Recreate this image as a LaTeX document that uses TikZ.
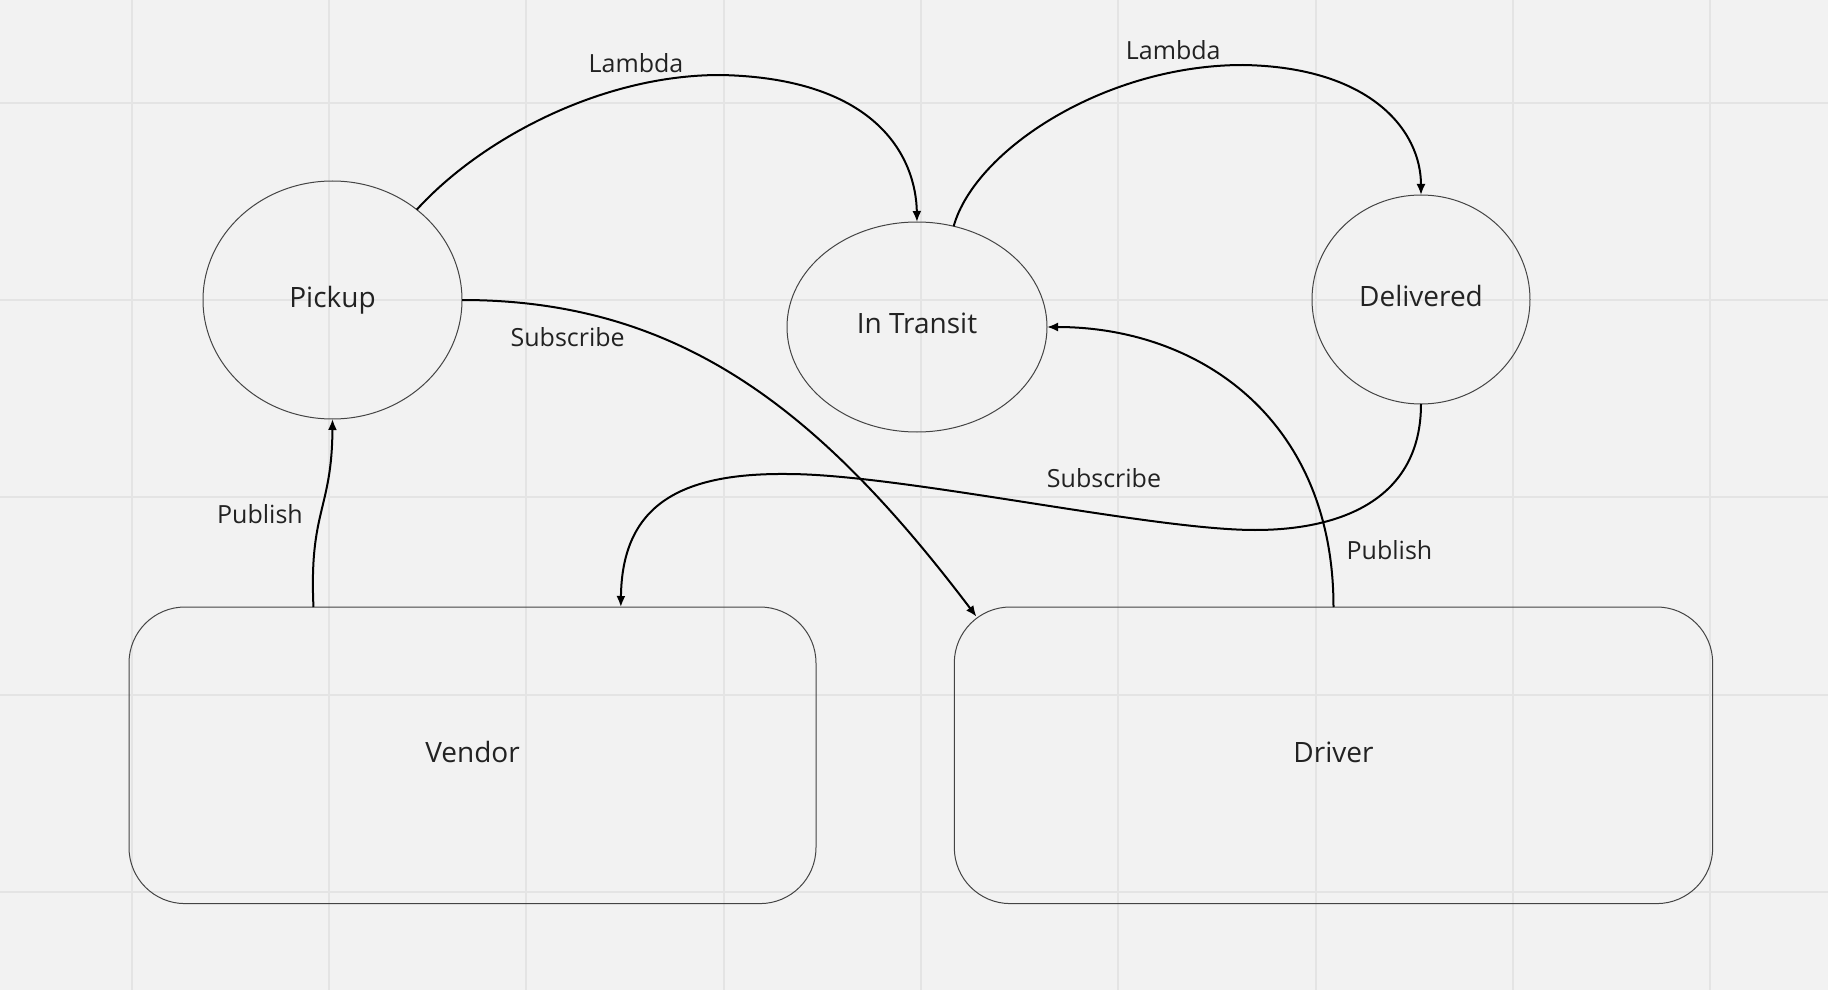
\documentclass[tikz,border=0pt]{standalone}
\usepackage{fontspec}
\setmainfont{Open Sans}
\usepackage{tikz}
\usetikzlibrary{arrows.meta,shapes.geometric}

\definecolor{bgcol}{HTML}{F2F2F2}
\definecolor{gridcol}{HTML}{E4E4E4}
\definecolor{inkcol}{HTML}{222222}
\definecolor{bordcol}{HTML}{444444}

\begin{document}
\begin{tikzpicture}[x=0.5pt,y=-0.5pt,
	state/.style={ellipse, draw=bordcol, line width=0.5pt, inner sep=0pt, outer sep=0pt, text depth=3.4pt, text=inkcol, font=\fontsize{14}{16}\selectfont},
	actor/.style={rectangle, rounded corners=28pt, draw=bordcol, line width=0.5pt, inner sep=0pt, outer sep=0pt, text depth=3.4pt, text=inkcol, font=\fontsize{14}{16}\selectfont},
	flow/.style={line width=1pt, black, -{Latex[length=5.5pt,width=4.5pt]}},
	lbl/.style={text=inkcol, font=\fontsize{12.5}{14}\selectfont, inner sep=0pt},
	gridline/.style={gridcol, line width=1pt}]
		\useasboundingbox (0,0) rectangle (1828,990);
		\fill[bgcol] (0,0) rectangle (1828,990);
		
		% board grid
		\draw[gridline] (131.7,0) -- (131.7,990);
		\draw[gridline] (329,0) -- (329,990);
		\draw[gridline] (526.3,0) -- (526.3,990);
		\draw[gridline] (723.6,0) -- (723.6,990);
		\draw[gridline] (920.9,0) -- (920.9,990);
		\draw[gridline] (1118.2,0) -- (1118.2,990);
		\draw[gridline] (1315.5,0) -- (1315.5,990);
		\draw[gridline] (1512.8,0) -- (1512.8,990);
		\draw[gridline] (1710.1,0) -- (1710.1,990);
		
		\draw[gridline] (0,102.6) -- (1828,102.6);
		\draw[gridline] (0,299.9) -- (1828,299.9);
		\draw[gridline] (0,497.2) -- (1828,497.2);
		\draw[gridline] (0,694.5) -- (1828,694.5);
		\draw[gridline] (0,891.8) -- (1828,891.8);
		
		% states
		\node[state, minimum width=129.5pt, minimum height=119pt] (pickup) at (332.5,300) {Pickup};
		\node[state, minimum width=130pt, minimum height=105pt] (intransit) at (917,327) {In Transit};
		\node[state, minimum width=109pt, minimum height=104.5pt] (delivered) at (1421,299.5) {Delivered};
		
		% actors
		\node[actor, minimum width=343.5pt, minimum height=148.3pt] (vendor) at (472.5,755.3) {Vendor};
		\node[actor, minimum width=379.2pt, minimum height=148.3pt] (driver) at (1333.5,755.3) {Driver};
		\coordinate (drvtip) at ([xshift=11.1pt,yshift=-4.85pt]driver.north west);
		
		% lambdas
		\draw[flow] (pickup.47.5) .. controls (480,140) and (600,75) .. (720,75) .. controls (880,78) and (916,160) .. (intransit.north);
		\draw[flow] (intransit.70) .. controls (975,150) and (1105,65) .. (1243,65) .. controls (1370,67) and (1421,130) .. (delivered.north);
		\node[lbl] (lambdaA) at (636,62.7) {Lambda};
		\node[lbl] (lambdaB) at (1173.3,50) {Lambda};
		
		% subscribes
		\draw[flow] (pickup.east) .. controls (680,300) and (820,410) .. (drvtip);
		\draw[flow] (delivered.south) .. controls (1421,500) and (1340,530) .. (1255,530) .. controls (1150,530) and (900,474) .. (787,474) .. controls (680,473) and (622,505) .. (vendor.45);
		\node[lbl] (subA) at (567.7,336.9) {Subscribe};
		\node[lbl] (subB) at (1104,478.3) {Subscribe};
		
		% publishes
		\draw[flow] (vendor.137.9) .. controls (309,510) and (332,510) .. (pickup.south);
		\draw[flow] (driver.north) .. controls (1333.5,420) and (1200,327) .. (intransit.east);
		\node[lbl] (pubA) at (260,514) {Publish};
		\node[lbl] (pubB) at (1389.5,550) {Publish};
		
	\end{tikzpicture}
\end{document}
